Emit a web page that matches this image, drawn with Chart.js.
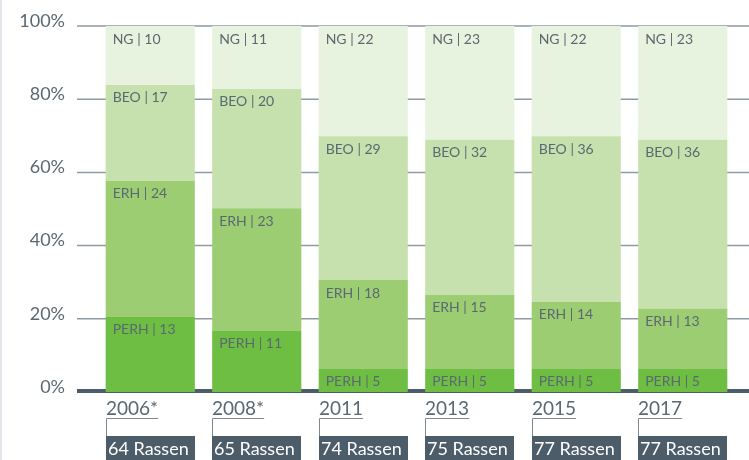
<!DOCTYPE html>
<html>
<head>
<meta charset="utf-8">
<script src="https://cdn.jsdelivr.net/npm/chart.js@4"></script>
<style>
  html, body { margin: 0; padding: 0; background: #fff; }
  #wrap { width: 749px; height: 460px; position: relative; }
</style>
</head>
<body>
<div id="wrap"><canvas id="myChart" width="749" height="460"></canvas></div>
<script>
const years = ['2006*', '2008*', '2011', '2013', '2015', '2017'];
const rassen = ['64 Rassen', '65 Rassen', '74 Rassen', '75 Rassen', '77 Rassen', '77 Rassen'];
const seriesNames = ['PERH', 'ERH', 'BEO', 'NG'];
// counts shown in the labels
const perhCount = [13, 11, 5, 5, 5, 5];
const erhCount = [24, 23, 18, 15, 14, 13];
const beoCount = [17, 20, 29, 32, 36, 36];
const ngCount = [10, 11, 22, 23, 22, 23];
// segment heights in percent, as drawn
const perhPct = [20.5, 16.7, 6.3, 6.3, 6.3, 6.3];
const erhPct = [37.2, 33.5, 24.3, 20.3, 18.3, 16.5];
const beoPct = [26.2, 32.6, 39.3, 42.3, 45.3, 46.1];
const ngPct = [16.1, 17.2, 30.1, 31.1, 30.1, 31.1];
const colors = ['#6fbe44', '#9dcd73', '#c6e1ad', '#e7f3de'];
const yTicks = [0, 20, 40, 60, 80, 100];

const counts = [perhCount, erhCount, beoCount, ngCount];
const pcts = [perhPct, erhPct, beoPct, ngPct];

const textColor = '#5b6871';
const darkColor = '#4c5c68';
const fontFamily = 'Lato, "Open Sans", sans-serif';

const backgroundPlugin = {
    id: 'backgroundGrid',
    beforeDatasetsDraw(chart) {
        const ctx = chart.ctx;
        const y = chart.scales.y;
        ctx.save();
        ctx.fillStyle = '#e2e6ea';
        ctx.fillRect(0, 0, 2, chart.height);
        yTicks.forEach(v => {
            const py = y.getPixelForValue(v);
            if (v === 0) {
                ctx.fillStyle = darkColor;
                ctx.fillRect(77, py - 3, chart.width - 77, 4);
            } else {
                ctx.strokeStyle = '#8f9aa3';
                ctx.lineWidth = 1.5;
                ctx.beginPath();
                ctx.moveTo(77, py);
                ctx.lineTo(chart.width, py);
                ctx.stroke();
            }
            ctx.fillStyle = textColor;
            ctx.font = '18px ' + fontFamily;
            ctx.textAlign = 'right';
            ctx.textBaseline = 'middle';
            ctx.fillText(v + '%', 65, py - 5);
        });
        ctx.restore();
    }
};

const labelPlugin = {
    id: 'segmentLabels',
    afterDatasetsDraw(chart) {
        const ctx = chart.ctx;
        ctx.save();
        ctx.font = '14px ' + fontFamily;
        ctx.fillStyle = textColor;
        ctx.textAlign = 'left';
        ctx.textBaseline = 'middle';
        chart.data.datasets.forEach((ds, di) => {
            chart.getDatasetMeta(di).data.forEach((bar, i) => {
                const left = bar.x - bar.width / 2;
                ctx.fillText(seriesNames[di] + ' | ' + counts[di][i], left + 7, bar.y + 13);
            });
        });

        // year labels with bracket and count box
        const bottom = chart.scales.y.getPixelForValue(0);
        chart.getDatasetMeta(0).data.forEach((bar, i) => {
            const left = Math.round(bar.x - bar.width / 2);
            ctx.font = '19px ' + fontFamily;
            ctx.fillStyle = textColor;
            ctx.textBaseline = 'middle';
            ctx.fillText(years[i], left, bottom + 17);
            const w = ctx.measureText(years[i]).width;
            ctx.strokeStyle = '#7d8890';
            ctx.lineWidth = 1;
            ctx.beginPath();
            ctx.moveTo(left + w, bottom + 26.5);
            ctx.lineTo(left + 0.5, bottom + 26.5);
            ctx.lineTo(left + 0.5, bottom + 45);
            ctx.stroke();
            ctx.fillStyle = darkColor;
            ctx.fillRect(left, bottom + 44, Math.round(bar.width), 24);
            ctx.fillStyle = '#ffffff';
            ctx.font = '18px ' + fontFamily;
            ctx.fillText(rassen[i], left + 2, bottom + 57);
        });
        ctx.restore();
    }
};

const ctx = document.getElementById('myChart').getContext('2d');
new Chart(ctx, {
    type: 'bar',
    data: {
        labels: years,
        datasets: pcts.map((arr, di) => ({
            label: seriesNames[di],
            data: arr,
            backgroundColor: colors[di],
            borderWidth: 0,
            barPercentage: 0.837,
            categoryPercentage: 1.0
        }))
    },
    options: {
        responsive: false,
        animation: false,
        layout: { padding: { left: 97, right: 13, top: 26, bottom: 68 } },
        plugins: {
            legend: { display: false },
            tooltip: { enabled: false }
        },
        scales: {
            x: { stacked: true, display: false },
            y: { stacked: true, display: false, min: 0, max: 100 }
        }
    },
    plugins: [backgroundPlugin, labelPlugin]
});
</script>
</body>
</html>
